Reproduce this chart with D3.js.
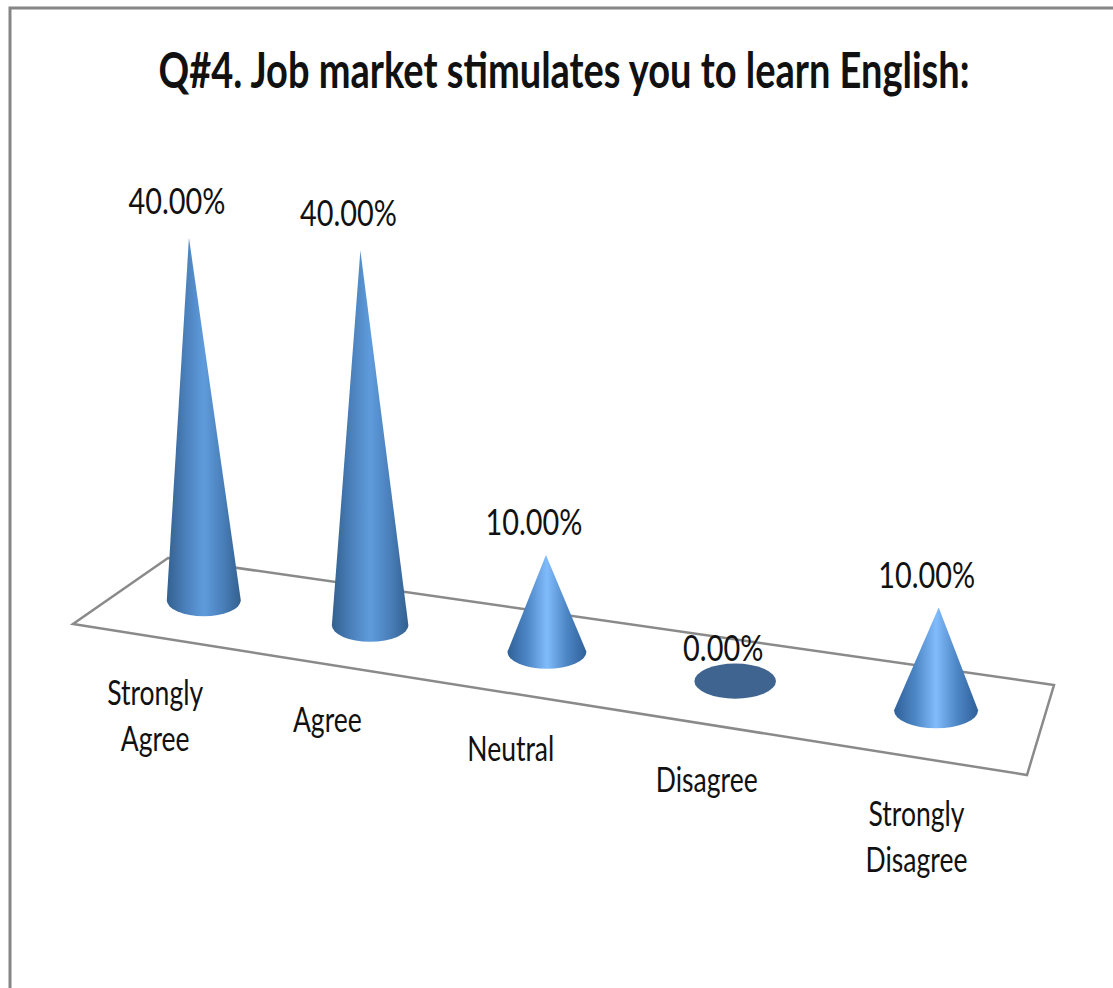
<!DOCTYPE html>
<html>
<head>
<meta charset="utf-8">
<script src="https://cdn.jsdelivr.net/npm/d3@7/dist/d3.min.js"></script>
<style>
html,body{margin:0;padding:0;background:#fff;}
svg{display:block;}
text{font-family:Lato,"Noto Sans",sans-serif;fill:#111;}
</style>
</head>
<body>
<svg id="chart" width="1113" height="988"></svg>
<script>
const categories = [["Strongly","Agree"],["Agree"],["Neutral"],["Disagree"],["Strongly","Disagree"]];
const values = [40, 40, 10, 0, 10];
const titleText = "Q#4. Job market stimulates you to learn English:";

const svg = d3.select("#chart");
const defs = svg.append("defs");

// Corners of the tilted floor in screen space: back-left, back-right, front-right, front-left
const floor = [[168,558],[1054,685],[1027,775],[73,624]];

// Projective map from the unit square onto the floor quad
function homography(q){
  const [[x0,y0],[x1,y1],[x2,y2],[x3,y3]] = q;
  const dx1=x1-x2, dx2=x3-x2, dy1=y1-y2, dy2=y3-y2;
  const sx=x0-x1+x2-x3, sy=y0-y1+y2-y3;
  const den=dx1*dy2-dx2*dy1;
  const g=(sx*dy2-dx2*sy)/den, h=(dx1*sy-sx*dy1)/den;
  const a=x1-x0+g*x1, b=x3-x0+h*x3, d=y1-y0+g*y1, e=y3-y0+h*y3;
  return (u,v)=>{
    const w=g*u+h*v+1;
    return [(a*u+b*v+x0)/w,(d*u+e*v+y0)/w];
  };
}
const project = homography(floor);

const band = d3.scaleBand().domain(d3.range(categories.length)).range([0,1]);
const uOf = i => band(i)+band.bandwidth()/2;
const radius = d3.scaleLinear().domain([0,categories.length-1]).range([37,42]);
const heightPerPoint = 0.245;   // cone height per percentage point, per pixel of base radius
const depthRow = 0.48, labelRow = 1.0, labelDrop = 68;
// Vertical lines converge on a point far below the floor, so tall cones lean outward
const vanish = {x:658, y:11700};

// Horizontal sheen across each cone
function addGradient(id, edge, mid, glow){
  const g = defs.append("linearGradient").attr("id",id).attr("x1","0").attr("x2","1").attr("y1","0").attr("y2","0");
  [[0,edge],[0.25,mid],[0.5,glow],[0.75,mid],[1,edge]].forEach(([o,c])=>
    g.append("stop").attr("offset",o).attr("stop-color",c));
}
addGradient("tallCone","#33608f","#4a80bb","#5f9bdc");
addGradient("shortCone","#2f6099","#4d86c5","#80bbfb");

// Outer frame, open on the right and at the bottom
svg.append("path")
  .attr("d",d3.line()([[10,988],[10,8],[1113,8]]))
  .attr("fill","none").attr("stroke","#868686").attr("stroke-width",3);

// Floor outline
svg.append("path")
  .attr("d",d3.line()(floor)+"Z")
  .attr("fill","#fff").attr("stroke","#8a8a8a").attr("stroke-width",2.5)
  .attr("stroke-linejoin","miter");

const marks = values.map((v,i)=>{
  const [cx,cy]=project(uOf(i),depthRow);
  const rx=radius(i), ry=rx*0.43;
  const h=v*rx*heightPerPoint;
  const apexX=cx+(cx-vanish.x)*h/(vanish.y-cy);
  return {v,i,cx,cy,rx,ry,h,apexX,apexY:cy-h};
});

const coneGroup = svg.append("g");
marks.forEach(m=>{
  if(m.v===0){
    coneGroup.append("ellipse")
      .attr("cx",m.cx).attr("cy",m.cy+1).attr("rx",m.rx).attr("ry",m.ry)
      .attr("fill","#3e648f");
    return;
  }
  const d=`M${m.cx-m.rx},${m.cy} L${m.apexX},${m.apexY} L${m.cx+m.rx},${m.cy} A${m.rx},${m.ry} 0 0 1 ${m.cx-m.rx},${m.cy} Z`;
  coneGroup.append("path").attr("d",d)
    .attr("fill",`url(#${m.v>20?"tallCone":"shortCone"})`);
});

// Draws text squeezed horizontally about its anchor point
function squeezed(x,y,txt,size,weight,sx){
  return svg.append("text")
    .attr("transform",`translate(${x},${y}) scale(${sx},1)`)
    .attr("text-anchor","middle")
    .attr("font-size",size).attr("font-weight",weight)
    .text(txt);
}

squeezed(564,88,titleText,50,700,0.76);

const fmt = d3.format(".2f");
marks.forEach(m=>{
  const gap = m.v===0 ? m.ry+2 : 18+m.h*0.017;
  squeezed(m.apexX-12,m.apexY-gap,fmt(m.v)+"%",37,400,0.78);
});

categories.forEach((lines,i)=>{
  const [x,y]=project(uOf(i),labelRow);
  lines.forEach((t,k)=>squeezed(x,y+labelDrop+k*46,t,34,400,0.78));
});
</script>
</body>
</html>
